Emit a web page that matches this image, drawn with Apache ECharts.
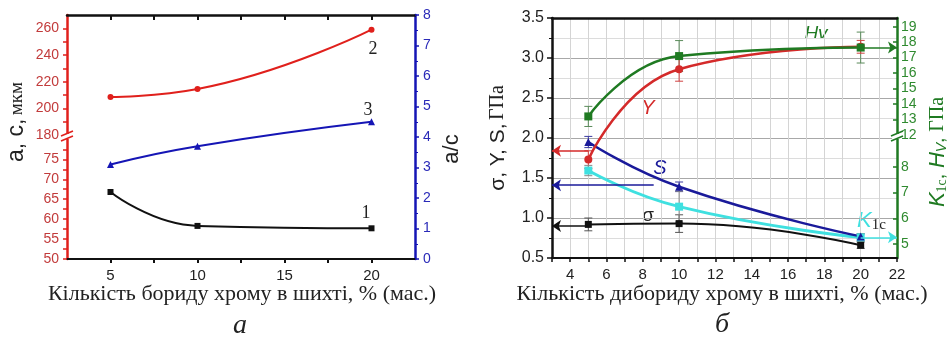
<!DOCTYPE html>
<html><head><meta charset="utf-8">
<script src="https://cdn.jsdelivr.net/npm/echarts@6/dist/echarts.min.js"></script>
<style>html,body{margin:0;padding:0;background:#fff}#c{width:950px;height:347px}</style>
</head><body><div id="c"></div>
<script>
// ---------- Panel "а" ----------
const xA = [5, 10, 20];
const aVals = [208.5, 214.5, 259];   // curve 2 (a, мкм)
const cVals = [66.8, 58.3, 57.7];    // curve 1 (c, мкм)
const acVals = [3.1, 3.7, 4.5];      // curve 3 (a/c)
const xLabelsA = [5, 10, 15, 20];
const xTicksA = [5, 7.5, 10, 12.5, 15, 17.5, 20];
const aLabels = [180, 200, 220, 240, 260];
const aTicks = [180, 190, 200, 210, 220, 230, 240, 250, 260];
const cLabels = [50, 55, 60, 65, 70, 75];
const cTicks = [50, 52.5, 55, 57.5, 60, 62.5, 65, 67.5, 70, 72.5, 75, 77.5];

// ---------- Panel "б" ----------
const xB = [5, 10, 20];
const sigmaVals = [0.92, 0.93, 0.66];
const sigmaErr = [0.08, 0.11, 0.04];
const yVals = [1.73, 2.86, 3.14];
const yErr = [0.11, 0.15, 0.08];
const sVals = [1.95, 1.39, 0.77];
const sErr = [0.07, 0.06, 0.03];
const hvVals = [13.2, 17.1, 17.65];
const hvErr = [0.65, 1.0, 1.0];
const k1cVals = [7.85, 6.45, 5.26];
const k1cErr = [0.2, 0.6, 0.15];
const hvLabels = [12, 13, 14, 15, 16, 17, 18, 19];
const k1cLabels = [5, 6, 7, 8];
// arrows [fromX, toX, value]
const arrowY = [5, 3, 1.84];
const arrowS = [8.6, 3, 1.41];
const arrowSigma = [5, 3, 0.90];
const arrowHv = [20, 22, 17.65];
const arrowK = [20, 22, 5.26];

const RED = '#e0201c', BLUE = '#1515b5', BLACK = '#111', GREEN = '#1f7a22', CYAN = '#3fe0e0', NAVY = '#1a1a9a';
const sans = 'Liberation Sans, Arial, sans-serif';
const serif = 'Liberation Serif, Times New Roman, serif';

function zip(xs, ys) { return xs.map((x, i) => [x, ys[i]]); }

function errSeries(xi, yi, xs, vals, errs, color) {
  return {
    type: 'custom', xAxisIndex: xi, yAxisIndex: yi, silent: true, z: 1,
    encode: { x: 0, y: [1, 2] },
    data: xs.map((x, i) => [x, vals[i] - errs[i], vals[i] + errs[i]]),
    renderItem(params, api) {
      const lo = api.coord([api.value(0), api.value(1)]);
      const hi = api.coord([api.value(0), api.value(2)]);
      const w = 4;
      const st = { stroke: color, lineWidth: 1 };
      return { type: 'group', children: [
        { type: 'line', shape: { x1: lo[0], y1: lo[1], x2: hi[0], y2: hi[1] }, style: st },
        { type: 'line', shape: { x1: lo[0] - w, y1: lo[1], x2: lo[0] + w, y2: lo[1] }, style: st },
        { type: 'line', shape: { x1: hi[0] - w, y1: hi[1], x2: hi[0] + w, y2: hi[1] }, style: st }
      ] };
    }
  };
}

function arrowLine(xi, yi, arr, color) {
  return {
    type: 'line', xAxisIndex: xi, yAxisIndex: yi, data: [], silent: true, z: 5,
    markLine: {
      silent: true, animation: false, symbol: ['none', 'arrow'], symbolSize: 9,
      label: { show: false }, emphasis: { disabled: true },
      lineStyle: { color: color, width: 1.5, type: 'solid' },
      data: [[{ coord: [arr[0], arr[2]] }, { coord: [arr[1], arr[2]] }]]
    }
  };
}

function lineSeries(xi, yi, xs, vals, color, symbol, size, width) {
  return {
    type: 'line', xAxisIndex: xi, yAxisIndex: yi, data: zip(xs, vals), smooth: 0.5,
    symbol: symbol, symbolSize: size, showSymbol: true,
    lineStyle: { color: color, width: width }, itemStyle: { color: color }, z: 3
  };
}

const hidden = (gi, min, max) => ({ gridIndex: gi, type: 'value', min, max, show: false });

const option = {
  animation: false,
  backgroundColor: '#fff',
  grid: [
    { left: 67, top: 15, width: 348, height: 122 },   // 0 a upper
    { left: 67, top: 137, width: 348, height: 122 },  // 1 c lower
    { left: 67, top: 15, width: 348, height: 244 },   // 2 a/c full
    { left: 552, top: 18, width: 345, height: 240 },  // 3 sigma full
    { left: 552, top: 18, width: 345, height: 119 },  // 4 Hv upper
    { left: 552, top: 137, width: 345, height: 121 }  // 5 K1c lower
  ],
  xAxis: [
    hidden(0, 2.5, 22.5),
    hidden(1, 2.5, 22.5),
    { gridIndex: 2, type: 'value', min: 2.5, max: 22.5, position: 'bottom',
      axisLine: { lineStyle: { color: BLACK, width: 2 } },
      axisTick: { show: true, length: 4, customValues: xTicksA, lineStyle: { color: BLACK, width: 2 } },
      axisLabel: { customValues: xLabelsA, color: '#222', fontFamily: sans, fontSize: 15, margin: 9 },
      splitLine: { show: false } },
    { gridIndex: 2, type: 'value', min: 2.5, max: 22.5, position: 'top',
      axisLine: { lineStyle: { color: BLACK, width: 2.5 } },
      axisTick: { show: true, inside: true, length: 5, customValues: xTicksA, lineStyle: { color: BLACK, width: 2 } },
      axisLabel: { show: false }, splitLine: { show: false } },
    { gridIndex: 3, type: 'value', min: 3, max: 22, interval: 1, position: 'bottom',
      axisLine: { lineStyle: { color: BLACK, width: 2 } },
      axisTick: { show: true, length: 4, lineStyle: { color: BLACK, width: 1.5 } },
      axisLabel: { interval: 0, color: '#222', fontFamily: sans, fontSize: 15, margin: 9,
        formatter: v => (v % 2 === 0 ? String(v) : '') },
      splitLine: { show: true, lineStyle: { color: '#d4d4d4', width: 1 } } },
    { gridIndex: 3, type: 'value', min: 3, max: 22, position: 'top',
      axisLine: { lineStyle: { color: BLACK, width: 2.5 } },
      axisTick: { show: false }, axisLabel: { show: false }, splitLine: { show: false } },
    hidden(4, 3, 22),
    hidden(5, 3, 22)
  ],
  yAxis: [
    { gridIndex: 0, type: 'value', min: 178.5, max: 270, position: 'left',
      axisLine: { show: true, lineStyle: { color: RED, width: 2.5 } },
      axisTick: { show: true, length: 4, customValues: aTicks, lineStyle: { color: RED, width: 1.5 } },
      axisLabel: { customValues: aLabels, color: '#c23b3b', fontFamily: sans, fontSize: 14, margin: 8 },
      splitLine: { show: false } },
    { gridIndex: 1, type: 'value', min: 50, max: 80.6, position: 'left',
      axisLine: { show: true, lineStyle: { color: RED, width: 2.5 } },
      axisTick: { show: true, length: 4, customValues: cTicks, lineStyle: { color: RED, width: 1.5 } },
      axisLabel: { customValues: cLabels, color: '#c23b3b', fontFamily: sans, fontSize: 14, margin: 8 },
      splitLine: { show: false } },
    { gridIndex: 2, type: 'value', min: 0, max: 8, interval: 1, position: 'right',
      axisLine: { show: true, lineStyle: { color: BLUE, width: 2.5 } },
      axisTick: { show: true, length: 4, lineStyle: { color: BLUE, width: 1.5 } },
      minorTick: { show: true, splitNumber: 2, length: 3, lineStyle: { color: BLUE } },
      axisLabel: { color: '#2a2ab8', fontFamily: sans, fontSize: 14, margin: 8 },
      splitLine: { show: false } },
    { gridIndex: 3, type: 'value', min: 0.5, max: 3.5, interval: 0.5, position: 'left',
      axisLine: { show: true, lineStyle: { color: BLACK, width: 2.5 } },
      axisTick: { show: true, length: 5, lineStyle: { color: BLACK, width: 1.5 } },
      minorTick: { show: true, splitNumber: 2, length: 3, lineStyle: { color: BLACK } },
      axisLabel: { color: '#222', fontFamily: sans, fontSize: 16, margin: 8, formatter: v => v.toFixed(1) },
      splitLine: { show: true, lineStyle: { color: '#a8a8a8', width: 1 } },
      minorSplitLine: { show: true, lineStyle: { color: '#dcdcdc', width: 1 } } },
    { gridIndex: 4, type: 'value', min: 11.87, max: 19.56, position: 'right',
      axisLine: { show: true, lineStyle: { color: GREEN, width: 2.5 } },
      axisTick: { show: true, inside: true, length: 4, customValues: hvLabels, lineStyle: { color: GREEN, width: 1.5 } },
      axisLabel: { customValues: hvLabels, color: '#2f8a2f', fontFamily: sans, fontSize: 14, margin: 4 },
      splitLine: { show: false } },
    { gridIndex: 5, type: 'value', min: 4.46, max: 9.15, position: 'right',
      axisLine: { show: true, lineStyle: { color: GREEN, width: 2.5 } },
      axisTick: { show: true, inside: true, length: 4, customValues: k1cLabels, lineStyle: { color: GREEN, width: 1.5 } },
      axisLabel: { customValues: k1cLabels, color: '#2f8a2f', fontFamily: sans, fontSize: 14, margin: 4 },
      splitLine: { show: false } }
  ],
  series: [
    // panel а
    lineSeries(0, 0, xA, aVals, RED, 'circle', 6, 2),
    lineSeries(1, 1, xA, cVals, BLACK, 'rect', 6, 2),
    lineSeries(2, 2, xA, acVals, BLUE, 'triangle', 7, 2),
    // panel б error bars
    errSeries(6, 4, xB, hvVals, hvErr, '#5a8a5a'),
    errSeries(4, 3, xB, yVals, yErr, '#d04040'),
    errSeries(4, 3, xB, sVals, sErr, '#3a3aa0'),
    errSeries(4, 3, xB, sigmaVals, sigmaErr, '#555'),
    errSeries(7, 5, xB, k1cVals, k1cErr, '#888'),
    // panel б curves
    lineSeries(4, 3, xB, sigmaVals, BLACK, 'rect', 7, 2),
    lineSeries(7, 5, xB, k1cVals, CYAN, 'rect', 8, 3),
    lineSeries(4, 3, xB, sVals, NAVY, 'triangle', 8, 2.5),
    lineSeries(4, 3, xB, yVals, '#d42a2a', 'circle', 8, 2.5),
    lineSeries(6, 4, xB, hvVals, GREEN, 'rect', 8, 2.5),
    // arrows
    arrowLine(4, 3, arrowY, '#d42a2a'),
    arrowLine(4, 3, arrowS, NAVY),
    arrowLine(4, 3, arrowSigma, BLACK),
    arrowLine(6, 4, arrowHv, GREEN),
    arrowLine(7, 5, arrowK, CYAN)
  ],
  graphic: [
    // break marks
    { type: 'rect', shape: { x: 62, y: 134, width: 10, height: 5 }, style: { fill: '#fff' }, z: 100 },
    { type: 'line', shape: { x1: 61, y1: 136, x2: 73, y2: 131 }, style: { stroke: RED, lineWidth: 1.5 }, z: 101 },
    { type: 'line', shape: { x1: 61, y1: 141, x2: 73, y2: 136 }, style: { stroke: RED, lineWidth: 1.5 }, z: 101 },
    { type: 'rect', shape: { x: 892, y: 134, width: 10, height: 5 }, style: { fill: '#fff' }, z: 100 },
    { type: 'line', shape: { x1: 891, y1: 136, x2: 903, y2: 131 }, style: { stroke: GREEN, lineWidth: 1.5 }, z: 101 },
    { type: 'line', shape: { x1: 891, y1: 141, x2: 903, y2: 136 }, style: { stroke: GREEN, lineWidth: 1.5 }, z: 101 },
    // curve numbers
    { type: 'text', x: 373, y: 49, style: { text: '2', font: '18px ' + serif, fill: '#222', align: 'center', verticalAlign: 'middle' } },
    { type: 'text', x: 368, y: 110, style: { text: '3', font: '18px ' + serif, fill: '#222', align: 'center', verticalAlign: 'middle' } },
    { type: 'text', x: 366, y: 213, style: { text: '1', font: '18px ' + serif, fill: '#222', align: 'center', verticalAlign: 'middle' } },
    // axis titles panel а
    { type: 'text', x: 17, y: 122, rotation: Math.PI / 2,
      style: { text: '{s|a, c,} {r|мкм}', align: 'center', verticalAlign: 'middle',
        rich: { s: { font: '23px ' + sans, fill: '#222' }, r: { font: '19px ' + serif, fill: '#222' } } } },
    { type: 'text', x: 452, y: 149, rotation: Math.PI / 2,
      style: { text: 'a/c', font: '22px ' + sans, fill: '#222', align: 'center', verticalAlign: 'middle' } },
    { type: 'text', x: 242, y: 294,
      style: { text: 'Кількість бориду хрому в шихті, % (мас.)', font: '22px ' + serif, fill: '#222', align: 'center', verticalAlign: 'middle' } },
    { type: 'text', x: 240, y: 326,
      style: { text: 'а', font: 'italic 28px ' + serif, fill: '#222', align: 'center', verticalAlign: 'middle' } },
    // panel б labels
    { type: 'text', x: 816, y: 34, style: { text: 'Hv', font: 'italic 19px ' + sans, fill: GREEN, align: 'center', verticalAlign: 'middle' } },
    { type: 'text', x: 648, y: 108, style: { text: 'Y', font: 'italic 20px ' + sans, fill: '#d42a2a', align: 'center', verticalAlign: 'middle' } },
    { type: 'text', x: 660, y: 168, style: { text: 'S', font: 'italic 20px ' + sans, fill: NAVY, align: 'center', verticalAlign: 'middle' } },
    { type: 'text', x: 648, y: 216, style: { text: 'σ', font: '19px ' + sans, fill: '#222', align: 'center', verticalAlign: 'middle' } },
    { type: 'text', x: 857, y: 221, style: { text: '{k|K}{s|1c}', verticalAlign: 'middle',
        rich: { k: { font: 'italic 22px ' + sans, fill: CYAN }, s: { font: '15px ' + serif, fill: '#222', padding: [8, 0, 0, 0] } } } },
    { type: 'text', x: 498, y: 138, rotation: Math.PI / 2,
      style: { text: '{s|σ, Y, S,} {r|ГПа}', align: 'center', verticalAlign: 'middle',
        rich: { s: { font: '21px ' + sans, fill: '#222' }, r: { font: '20px ' + serif, fill: '#222' } } } },
    { type: 'text', x: 938, y: 152, rotation: Math.PI / 2,
      style: { text: '{k|K}{sub|1c}{s|, }{k|H}{sub2|V}{s|, }{r|ГПа}', align: 'center', verticalAlign: 'middle',
        rich: { k: { font: 'italic 22px ' + sans, fill: GREEN }, sub: { font: '14px ' + serif, fill: GREEN, padding: [8, 0, 0, 0] },
          sub2: { font: 'italic 14px ' + sans, fill: GREEN, padding: [8, 0, 0, 0] },
          s: { font: '20px ' + sans, fill: GREEN }, r: { font: '20px ' + serif, fill: GREEN } } } },
    { type: 'text', x: 722, y: 294,
      style: { text: 'Кількість дибориду хрому в шихті, % (мас.)', font: '22px ' + serif, fill: '#222', align: 'center', verticalAlign: 'middle' } },
    { type: 'text', x: 722, y: 325,
      style: { text: 'б', font: 'italic 28px ' + serif, fill: '#222', align: 'center', verticalAlign: 'middle' } }
  ]
};

const chart = echarts.init(document.getElementById('c'), null, { renderer: 'canvas' });
chart.setOption(option);
</script>
</body></html>
